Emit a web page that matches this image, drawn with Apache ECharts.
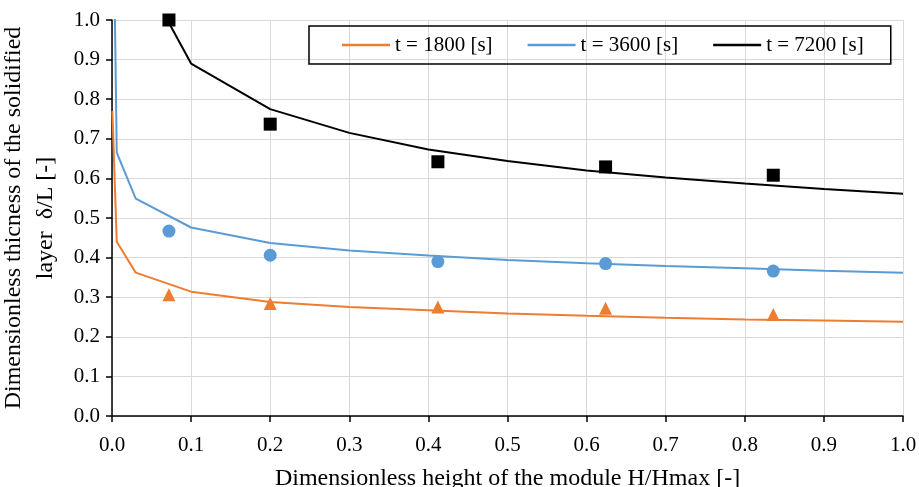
<!DOCTYPE html>
<html>
<head>
<meta charset="utf-8">
<script src="https://cdn.jsdelivr.net/npm/echarts@6/dist/echarts.min.js"></script>
<style>
html,body{margin:0;padding:0;background:#fff;}
#chart{width:919px;height:487px;}
</style>
</head>
<body>
<div id="chart"></div>
<script>
// Model curves
var xLine1800 = [0.0005, 0.006, 0.03, 0.1, 0.2, 0.3, 0.4, 0.5, 0.6, 0.7, 0.8, 0.9, 1.0];
var yLine1800 = [0.77, 0.44, 0.362, 0.314, 0.288, 0.275, 0.267, 0.259, 0.253, 0.248, 0.244, 0.241, 0.238];
var xLine3600 = [0.001, 0.006, 0.03, 0.1, 0.2, 0.3, 0.4, 0.5, 0.6, 0.7, 0.8, 0.9, 1.0];
var yLine3600 = [1.4, 0.665, 0.549, 0.476, 0.437, 0.418, 0.405, 0.394, 0.386, 0.379, 0.373, 0.367, 0.362];
var xLine7200 = [0.07, 0.1, 0.2, 0.3, 0.4, 0.5, 0.6, 0.7, 0.8, 0.9, 1.0];
var yLine7200 = [1.0, 0.89, 0.775, 0.715, 0.673, 0.644, 0.620, 0.602, 0.587, 0.573, 0.561];
// Measured points
var xPoints = [0.072, 0.2, 0.412, 0.624, 0.836];
var yPts1800 = [0.306, 0.284, 0.275, 0.272, 0.256];
var yPts3600 = [0.467, 0.406, 0.390, 0.385, 0.366];
var yPts7200 = [1.0, 0.737, 0.642, 0.629, 0.608];
var seriesNames = ['t = 1800 [s]', 't = 3600 [s]', 't = 7200 [s]'];

function pairs(xs, ys){ return xs.map(function(x,i){ return [x, ys[i]]; }); }

var FONT = "'Liberation Serif', 'Times New Roman', serif";
var C1 = '#ED7D31', C2 = '#5B9BD5', C3 = '#000000';

var chart = echarts.init(document.getElementById('chart'));
chart.setOption({
  animation: false,
  backgroundColor: '#fff',
  textStyle: { fontFamily: FONT },
  grid: { left: 112, right: 16, top: 20, bottom: 71, containLabel: false, outerBoundsMode: 'none' },
  legend: {
    data: seriesNames,
    left: 309, top: 26,
    padding: [7, 27, 7, 33],
    itemGap: 35,
    icon: 'rect',
    itemWidth: 48, itemHeight: 2.5,
    borderColor: '#000', borderWidth: 1.5,
    textStyle: { fontFamily: FONT, fontSize: 21, color: '#000', lineHeight: 24 }
  },
  xAxis: {
    type: 'value', min: 0, max: 1, interval: 0.1,
    name: 'Dimensionless height of the module H/Hmax [-]',
    nameLocation: 'middle', nameGap: 51,
    nameTextStyle: { fontFamily: FONT, fontSize: 24, color: '#000' },
    axisLine: { show: true, onZero: false, lineStyle: { color: '#000', width: 1.5 } },
    axisTick: { show: true, length: 6, lineStyle: { color: '#000', width: 1.5 } },
    axisLabel: { fontFamily: FONT, fontSize: 21, color: '#000', margin: 19,
      formatter: function(v){ return v.toFixed(1); } },
    splitLine: { show: true, lineStyle: { color: '#d9d9d9', width: 1 } }
  },
  yAxis: {
    type: 'value', min: 0, max: 1, interval: 0.1,
    name: 'Dimensionless thicness of the solidified\nlayer  δ/L [-]',
    nameLocation: 'middle', nameGap: 50, nameRotate: 90,
    nameTextStyle: { fontFamily: FONT, fontSize: 24, color: '#000', lineHeight: 32 },
    axisLine: { show: true, lineStyle: { color: '#000', width: 1.5 } },
    axisTick: { show: true, length: 6, lineStyle: { color: '#000', width: 1.5 } },
    axisLabel: { fontFamily: FONT, fontSize: 21, color: '#000', margin: 12,
      formatter: function(v){ return v.toFixed(1); } },
    splitLine: { show: true, lineStyle: { color: '#d9d9d9', width: 1 } }
  },
  series: [
    { name: seriesNames[0], type: 'line', symbol: 'none', clip: true,
      data: pairs(xLine1800, yLine1800), lineStyle: { color: C1, width: 2 }, itemStyle: { color: C1 }, z: 2 },
    { name: seriesNames[1], type: 'line', symbol: 'none', clip: true,
      data: pairs(xLine3600, yLine3600), lineStyle: { color: C2, width: 2 }, itemStyle: { color: C2 }, z: 2 },
    { name: seriesNames[2], type: 'line', symbol: 'none', clip: true,
      data: pairs(xLine7200, yLine7200), lineStyle: { color: C3, width: 2 }, itemStyle: { color: C3 }, z: 2 },
    { name: 'pts1800', type: 'scatter', symbol: 'triangle', symbolSize: 13,
      data: pairs(xPoints, yPts1800), itemStyle: { color: C1, opacity: 1 }, z: 5, clip: false },
    { name: 'pts3600', type: 'scatter', symbol: 'circle', symbolSize: 13,
      data: pairs(xPoints, yPts3600), itemStyle: { color: C2, opacity: 1 }, z: 5, clip: false },
    { name: 'pts7200', type: 'scatter', symbol: 'rect', symbolSize: 13,
      data: pairs(xPoints, yPts7200), itemStyle: { color: C3, opacity: 1 }, z: 5, clip: false }
  ]
});
</script>
</body>
</html>
